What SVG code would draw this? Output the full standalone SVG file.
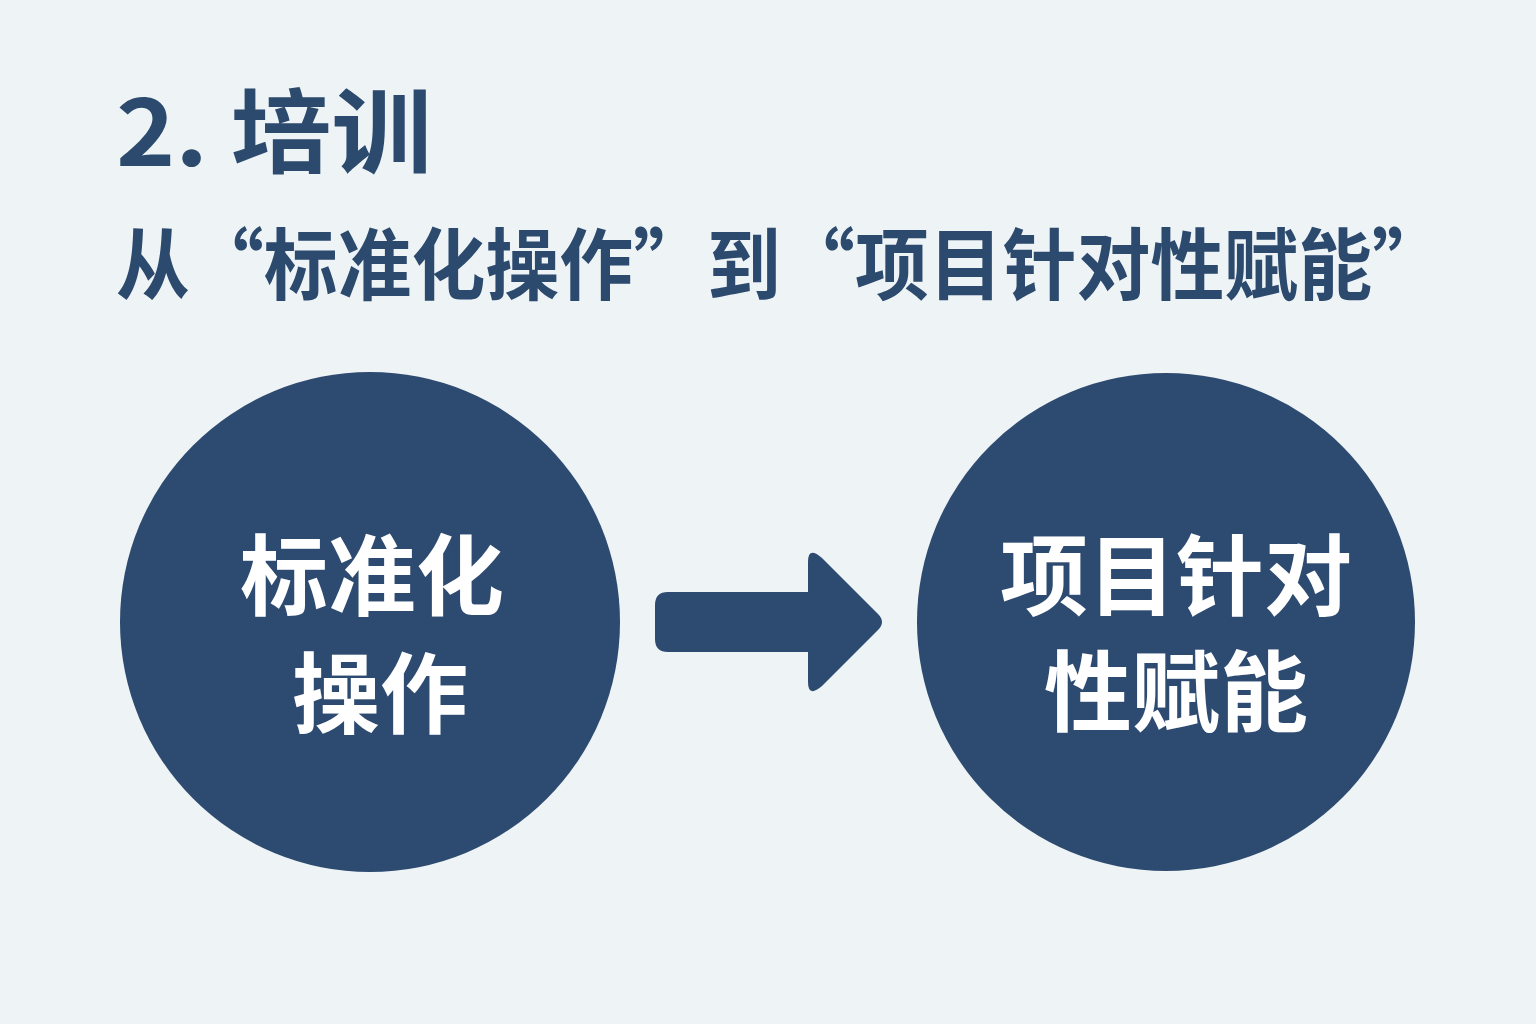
<svg xmlns="http://www.w3.org/2000/svg" width="1536" height="1024" viewBox="0 0 1536 1024">
<style>
.t{font-family:"Noto Sans CJK SC","Noto Sans",sans-serif;font-weight:bold;fill:#2c4a6e}
.c{fill:#2d4a70}
.w{font-family:"Noto Sans CJK SC",sans-serif;font-weight:bold;fill:#ffffff;font-size:88px;text-anchor:middle}
</style>
<rect width="1536" height="1024" fill="#eef3f5"/>
<text class="t" x="116" y="166" font-size="92" textLength="316" lengthAdjust="spacingAndGlyphs">2. 培训</text>
<text class="t" x="116" y="294" font-size="78" textLength="1330" lengthAdjust="spacingAndGlyphs">从“标准化操作”到“项目针对性赋能”</text>
<g id="left"><circle class="c" cx="370" cy="622" r="250"/>
<text class="w" x="372" y="608">标准化</text><text class="w" x="380" y="726">操作</text></g>
<g id="right"><circle class="c" cx="1166" cy="622" r="249"/>
<text class="w" x="1176" y="608">项目针对</text><text class="w" x="1176" y="724">性赋能</text></g>
<g id="connectors"><path class="c" d="M668 592 H808 V562 Q808 546 822 558 L878 614 Q886 622 878 630 L822 686 Q808 698 808 682 V652 H668 Q655 652 655 639 V605 Q655 592 668 592 Z"/></g>
</svg>
